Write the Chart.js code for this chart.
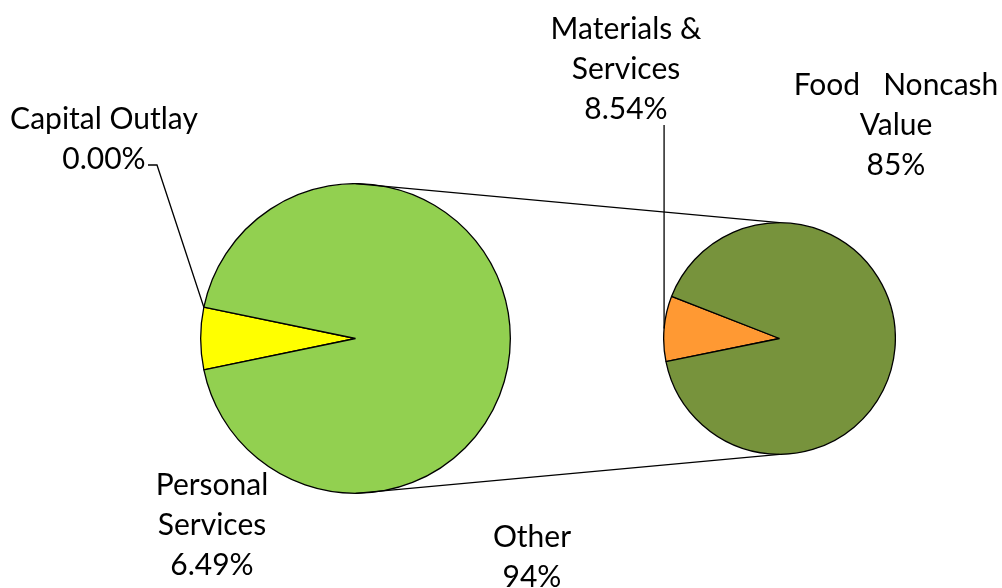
<!DOCTYPE html>
<html>
<head>
<meta charset="utf-8">
<script src="https://cdn.jsdelivr.net/npm/chart.js@4"></script>
<style>
  html, body { margin: 0; padding: 0; background: #fff; }
  #wrap { position: relative; width: 1002px; height: 588px; overflow: hidden; font-family: Lato, sans-serif; }
  .pie { position: absolute; }
  #links { position: absolute; left: 0; top: 0; pointer-events: none; }
  .lbl { position: absolute; transform: translateX(-50%); text-align: center; white-space: pre; font-size: 30px; line-height: 40px; color: #000; }
</style>
</head>
<body>
<div id="wrap">
  <div class="pie" style="left:200px;top:183px;width:311px;height:311px"><canvas id="pieMain"></canvas></div>
  <div class="pie" style="left:663px;top:222px;width:233px;height:233px"><canvas id="pieOther"></canvas></div>
  <canvas id="links" width="1002" height="588"></canvas>
</div>
<script>
// main pie: first slices, then the grouped "Other"
const mainLabels = ['Personal Services', 'Capital Outlay', 'Other'];
const mainValues = [6.49, 0.00, 93.51];
const mainColors = ['#FFFF00', '#FFFF00', '#92D050'];

// secondary pie: breakdown of "Other"
const otherLabels = ['Materials & Services', 'Food Noncash Value'];
const otherValues = [8.54, 84.97];
const otherColors = ['#FF9933', '#77933C'];

const pieOptions = (rotation) => ({
    responsive: true,
    maintainAspectRatio: false,
    animation: false,
    rotation: rotation,
    layout: { padding: 0 },
    plugins: {
        legend: { display: false },
        tooltip: { enabled: false }
    }
});

const mainChart = new Chart(document.getElementById('pieMain'), {
    type: 'pie',
    data: {
        labels: mainLabels,
        datasets: [{
            data: mainValues,
            backgroundColor: mainColors,
            borderColor: '#000',
            borderWidth: 1.3
        }]
    },
    options: pieOptions(258.3)
});

const otherChart = new Chart(document.getElementById('pieOther'), {
    type: 'pie',
    data: {
        labels: otherLabels,
        datasets: [{
            data: otherValues,
            backgroundColor: otherColors,
            borderColor: '#000',
            borderWidth: 1.3
        }]
    },
    options: pieOptions(258.5)
});

// text labels (real text), placed like the data labels of the original
const wrap = document.getElementById('wrap');
function addLabel(lines, x, top) {
    const d = document.createElement('div');
    d.className = 'lbl';
    d.style.left = x + 'px';
    d.style.top = top + 'px';
    d.textContent = lines.join('\n');
    wrap.appendChild(d);
}
const pct = (v, digits) => v.toFixed(digits) + '%';

addLabel(['Capital Outlay', pct(mainValues[1], 2)], 104, 97);
addLabel(['Personal', 'Services', pct(mainValues[0], 2)], 212, 463);
addLabel(['Other', pct(mainValues[2], 0)], 532, 515);
addLabel(['Materials &', 'Services', pct(otherValues[0], 2)], 626, 7);
addLabel(['Food   Noncash', 'Value', pct(otherValues[1], 0)], 896, 63);

// connector and leader lines, taken from the arc elements of both charts
function canvasOffset(chart) {
    const r = chart.canvas.getBoundingClientRect();
    const w = wrap.getBoundingClientRect();
    return { dx: r.left - w.left, dy: r.top - w.top };
}
function arcPoint(chart, arc, angle) {
    const o = canvasOffset(chart);
    return {
        x: o.dx + arc.x + arc.outerRadius * Math.cos(angle),
        y: o.dy + arc.y + arc.outerRadius * Math.sin(angle)
    };
}

function drawLinks() {
    const ctx = document.getElementById('links').getContext('2d');
    ctx.clearRect(0, 0, 1002, 588);
    ctx.strokeStyle = '#000';
    ctx.lineWidth = 1.3;

    const mainArcs = mainChart.getDatasetMeta(0).data;
    const otherArcs = otherChart.getDatasetMeta(0).data;
    const m = mainArcs[2];
    const s = otherArcs[1];

    // top and bottom connectors between the two pies
    const mTop = arcPoint(mainChart, m, -Math.PI / 2);
    const sTop = arcPoint(otherChart, s, -Math.PI / 2);
    const mBot = arcPoint(mainChart, m, Math.PI / 2);
    const sBot = arcPoint(otherChart, s, Math.PI / 2);
    ctx.beginPath();
    ctx.moveTo(mTop.x, mTop.y); ctx.lineTo(sTop.x, sTop.y);
    ctx.moveTo(mBot.x, mBot.y); ctx.lineTo(sBot.x, sBot.y);
    ctx.stroke();

    // leader for the zero-sized Capital Outlay slice
    const cap = mainArcs[1];
    const cp = arcPoint(mainChart, cap, cap.startAngle);
    ctx.beginPath();
    ctx.moveTo(cp.x, cp.y);
    ctx.lineTo(157, 165);
    ctx.lineTo(148, 165);
    ctx.stroke();

    // leader for Materials & Services
    const mat = otherArcs[0];
    const mp = arcPoint(otherChart, mat, (mat.startAngle + mat.endAngle) / 2);
    ctx.beginPath();
    ctx.moveTo(mp.x, mp.y);
    ctx.lineTo(mp.x, 125);
    ctx.stroke();
}

drawLinks();
</script>
</body>
</html>
